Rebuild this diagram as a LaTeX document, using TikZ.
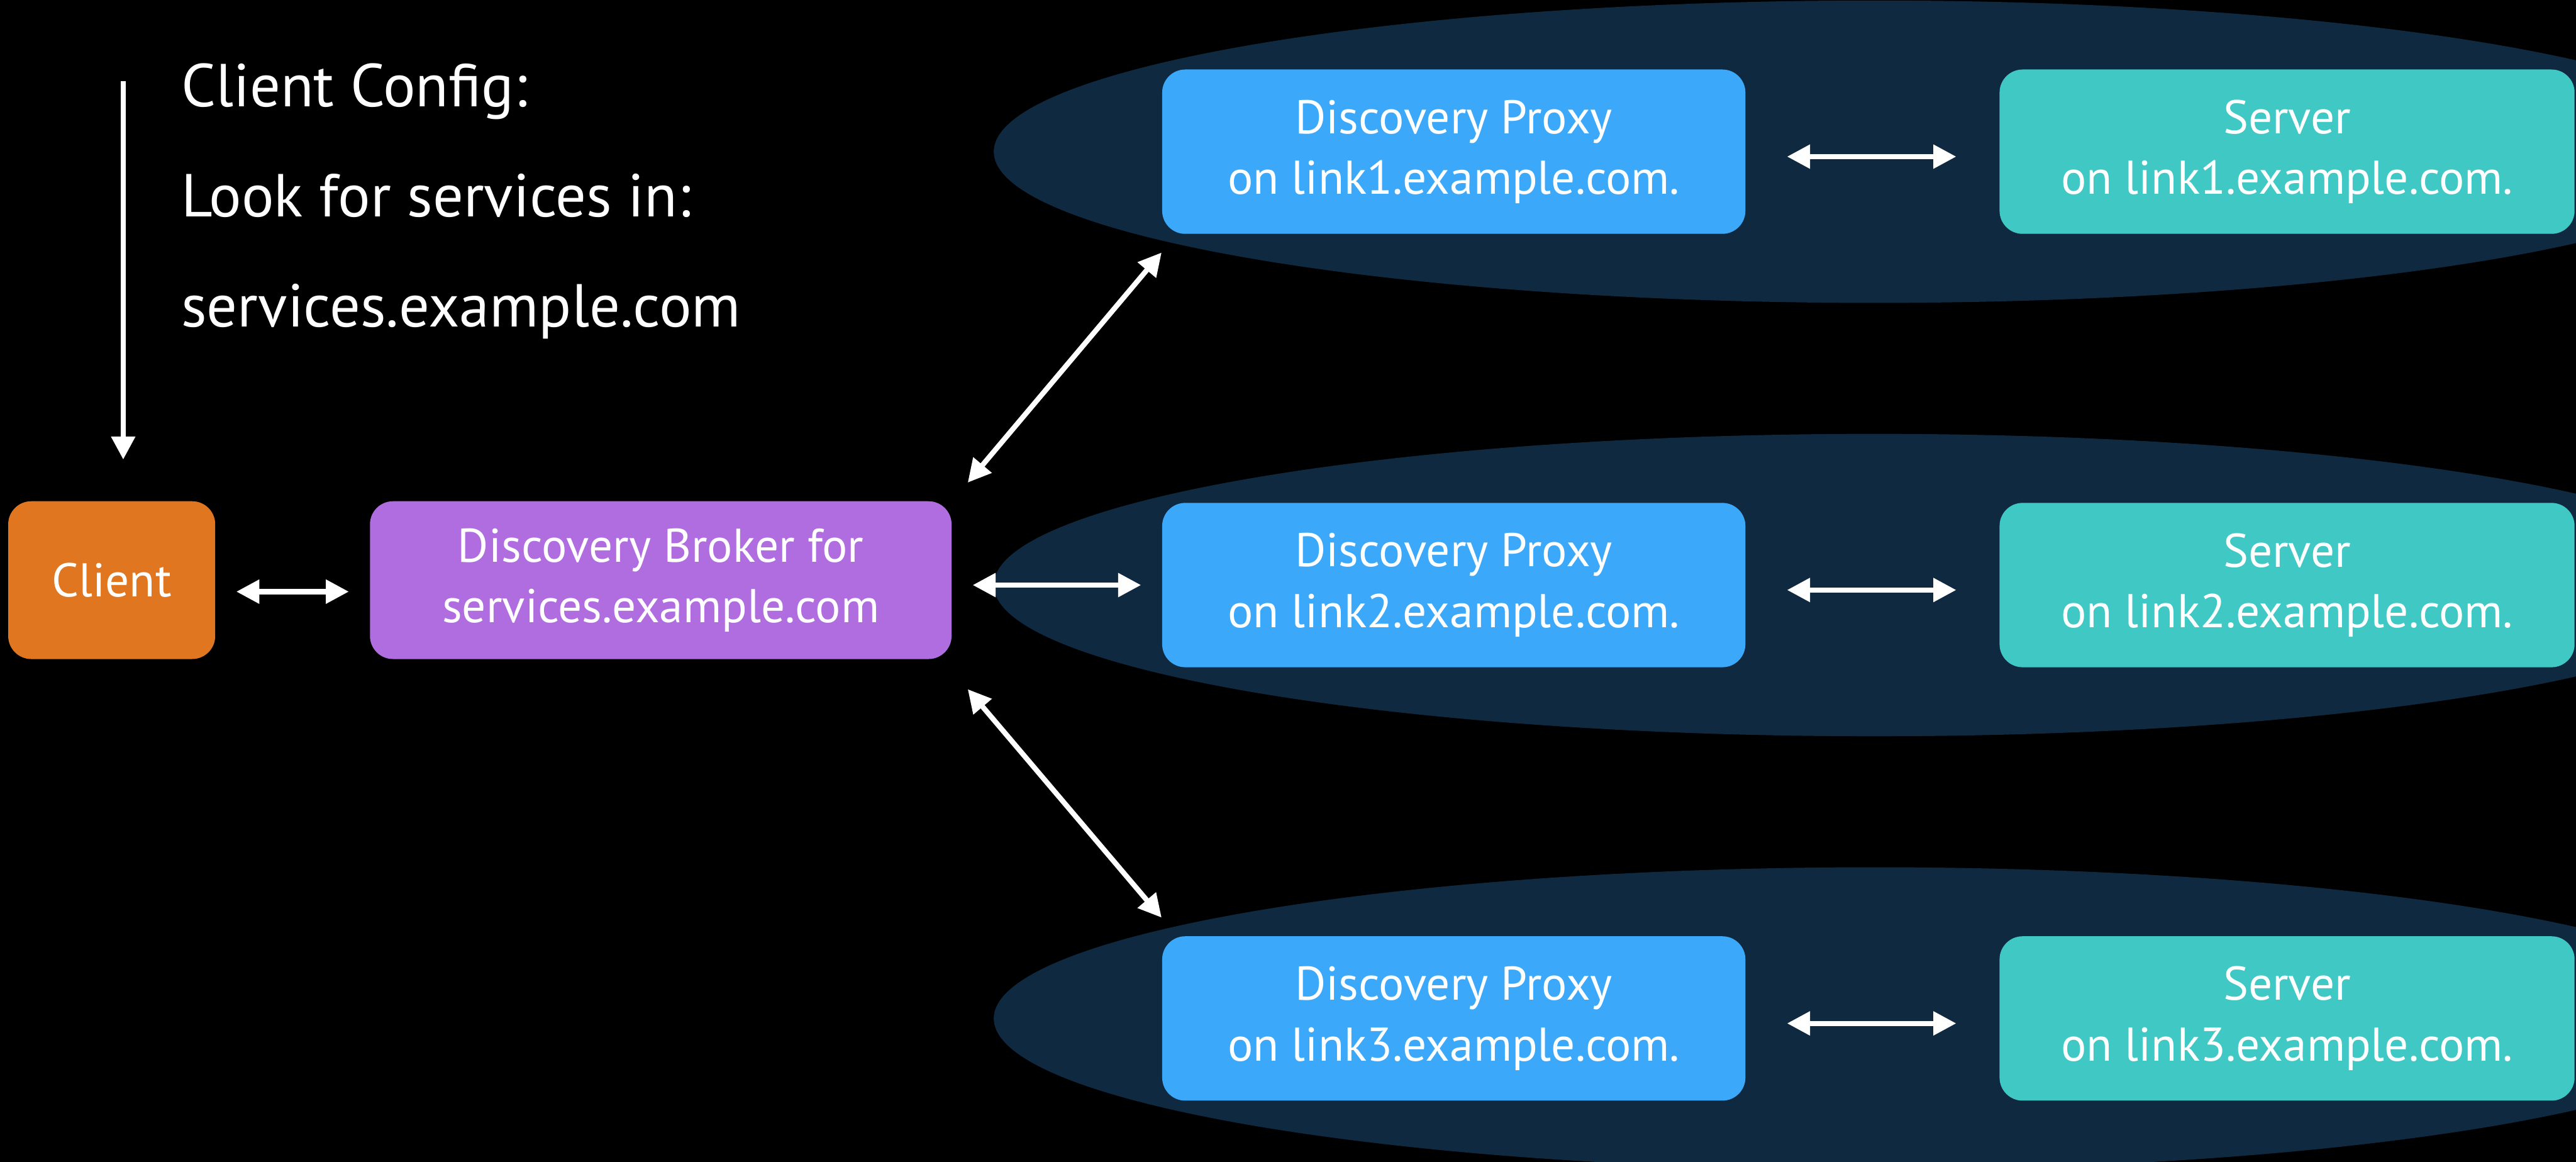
\documentclass[tikz,border=0pt]{standalone}
\usepackage{fontspec}
\setmainfont{PT Sans}
\usetikzlibrary{positioning,arrows.meta,shapes.geometric}

\pgfdeclarelayer{bg}
\pgfsetlayers{bg,main}

\definecolor{clientorange}{HTML}{E0761F}
\definecolor{brokerpurple}{HTML}{B06DE0}
\definecolor{proxyblue}{HTML}{3CA8FA}
\definecolor{serverteal}{HTML}{40C8C4}
\definecolor{zonenavy}{HTML}{0F2940}

\begin{document}
\begin{tikzpicture}[
      >={Triangle[length=0.28cm,width=0.28cm]},
      box/.style={rectangle,rounded corners=0.28cm,minimum height=2cm,
                  inner sep=0pt,align=center,text=white,
                  font=\fontsize{16.4}{21}\selectfont},
      link/.style={<->,white,line width=0.063cm,
                   shorten <=0.25cm,shorten >=0.25cm},
      flow/.style={->,white,line width=0.063cm},
      zone/.style={ellipse,fill=zonenavy,inner sep=0pt,
                   minimum width=21.44cm,minimum height=3.68cm},
      cfg/.style={text=white,inner sep=0pt,anchor=base west,
                  font=\fontsize{21}{26}\selectfont}
    ]
    \useasboundingbox (-1.36,-7.08) rectangle (30.0,7.06);

    % Client and broker
    \node[box, fill=clientorange, minimum width=2.52cm,
          minimum height=1.92cm] (client) at (0,0) {Client};
    \node[box, fill=brokerpurple, minimum width=7.08cm,
          minimum height=1.92cm, right=1.87cm of client]
          (broker) {Discovery Broker for\\services.example.com};

    % Discovery proxies
    \node[box, fill=proxyblue, minimum width=7.1cm, right=2.55cm of broker,
          yshift=-0.06cm] (proxy2) {Discovery Proxy\\on link2.example.com.};
    \node[box, fill=proxyblue, minimum width=7.1cm, above=3.26cm of proxy2]
          (proxy1) {Discovery Proxy\\on link1.example.com.};
    \node[box, fill=proxyblue, minimum width=7.1cm, below=3.26cm of proxy2]
          (proxy3) {Discovery Proxy\\on link3.example.com.};

    % Servers
    \node[box, fill=serverteal, minimum width=7cm, right=3.08cm of proxy1]
          (server1) {Server\\on link1.example.com.};
    \node[box, fill=serverteal, minimum width=7cm, right=3.08cm of proxy2]
          (server2) {Server\\on link2.example.com.};
    \node[box, fill=serverteal, minimum width=7cm, right=3.08cm of proxy3]
          (server3) {Server\\on link3.example.com.};

    % Client configuration
    \node[cfg] (cfgtitle) at (0.84,5.76) {Client Config:};
    \node[cfg, below=1.34cm of cfgtitle.base west, anchor=base west]
          (cfglook) {Look for services in:};
    \node[cfg, below=1.34cm of cfglook.base west, anchor=base west]
          (cfgdomain) {services.example.com};
    \coordinate (cfgtop) at (0.14,6.07);

    % Links
    \draw[flow] (cfgtop) -- ([yshift=0.5cm]cfgtop |- client.north);
    \draw[link] ([yshift=-0.14cm]client.east) -- ([yshift=-0.14cm]broker.west);
    \draw[link] (broker.east |- proxy2) -- (proxy2.west);
    \draw[<->, white, line width=0.063cm]
          ([shift={(0.19cm,0.22cm)}]broker.north east)
          -- ([yshift=-0.22cm]proxy1.south west);
    \draw[<->, white, line width=0.063cm]
          ([shift={(0.19cm,-0.36cm)}]broker.south east)
          -- ([yshift=0.22cm]proxy3.north west);
    \foreach \i in {1,2,3}
      \draw[link, shorten <=0.5cm, shorten >=0.52cm]
            ([yshift=-0.06cm]proxy\i.east) -- ([yshift=-0.06cm]server\i.west);

    % Links as network zones
    \begin{pgfonlayer}{bg}
      \fill[black] (-1.36,-7.08) rectangle (30.0,7.06);
      \foreach \i in {1,2,3}
        \node[zone] (zone\i) at ([xshift=5.12cm]proxy\i.center) {};
    \end{pgfonlayer}

  \end{tikzpicture}
\end{document}
